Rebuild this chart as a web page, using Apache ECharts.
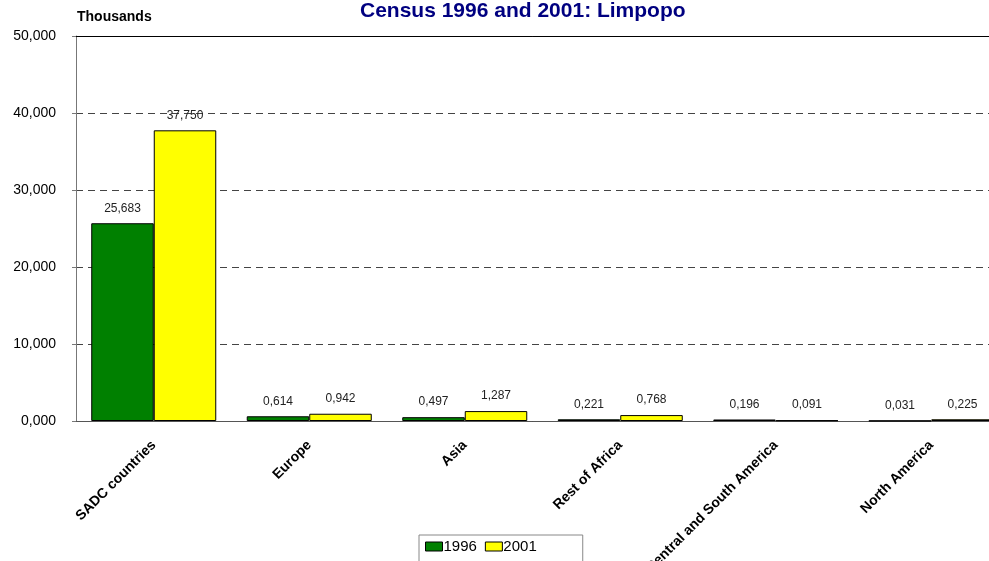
<!DOCTYPE html>
<html>
<head>
<meta charset="utf-8">
<script src="https://cdn.jsdelivr.net/npm/echarts@6/dist/echarts.min.js"></script>
<style>
  html, body { margin: 0; padding: 0; background: #fff; }
  #chart { width: 989px; height: 561px; }
</style>
</head>
<body>
<div id="chart"></div>
<script>
// data (thousands)
let categories = ['SADC countries', 'Europe', 'Asia', 'Rest of Africa', 'Central and South America', 'North America']
let values1996 = [25.683, 0.614, 0.497, 0.221, 0.196, 0.031]
let values2001 = [37.750, 0.942, 1.287, 0.768, 0.091, 0.225]
let yTicks = [0, 10, 20, 30, 40, 50]

function fmt(v) {
    // comma used as the decimal mark
    return Number(v).toFixed(3).replace('.', ',')
}

window.onload = function () {
    let chart = echarts.init(document.getElementById('chart'))
    let labelStyle = {
        show: true,
        position: 'top',
        distance: 9,
        fontFamily: 'Arial, Liberation Sans',
        fontSize: 12,
        color: '#222',
        formatter: (p) => fmt(p.value)
    }
    let option = {
        animation: false,
        title: {
            text: 'Census 1996 and 2001: Limpopo',
            left: 355,
            top: -4,
            textStyle: { fontFamily: 'Arial, Liberation Sans', fontSize: 21, fontWeight: 'bold', color: '#000080' }
        },
        graphic: [{
            type: 'text', left: 77, top: 10,
            style: { text: 'Thousands', font: 'bold 14px Arial, Liberation Sans', fill: '#000' }
        }],
        legend: {
            left: 419,
            top: 535,
            icon: 'rect',
            itemWidth: 17,
            itemHeight: 9,
            itemGap: 8,
            padding: [4, 46, 10, 6],
            borderColor: '#888',
            borderWidth: 1,
            textStyle: { fontFamily: 'Arial, Liberation Sans', fontSize: 15, color: '#000', padding: [0, 0, 0, -4] },
            itemStyle: { borderColor: '#000', borderWidth: 1 },
            data: ['1996', '2001']
        },
        grid: { left: 76, top: 36, width: 933, height: 385, containLabel: false, outerBoundsMode: 'none' },
        xAxis: [{
            type: 'category',
            data: categories,
            axisLine: { show: true, lineStyle: { color: '#555' } },
            axisTick: { show: false },
            axisLabel: {
                interval: 0,
                rotate: 45,
                margin: 22,
                fontFamily: 'Arial, Liberation Sans',
                fontSize: 14,
                fontWeight: 'bold',
                color: '#000'
            }
        }, {
            type: 'category',
            position: 'top',
            data: categories,
            axisLine: { show: true, lineStyle: { color: '#000', width: 1 } },
            axisTick: { show: false },
            axisLabel: { show: false }
        }],
        yAxis: {
            type: 'value',
            min: yTicks[0],
            max: yTicks[yTicks.length - 1],
            interval: 10,
            axisLine: { show: true, lineStyle: { color: '#777' } },
            axisTick: { show: true, length: 4, lineStyle: { color: '#777' } },
            splitLine: { show: true, lineStyle: { color: '#444', type: [7, 5] } },
            axisLabel: {
                margin: 20,
                fontFamily: 'Arial, Liberation Sans',
                fontSize: 14,
                color: '#000',
                formatter: (v) => fmt(v)
            }
        },
        series: [{
            name: '1996',
            type: 'bar',
            data: values1996,
            barGap: '0%',
            barCategoryGap: '19.6%',
            itemStyle: { color: '#008000', borderColor: '#000', borderWidth: 1 },
            label: labelStyle
        }, {
            name: '2001',
            type: 'bar',
            data: values2001,
            itemStyle: { color: '#ffff00', borderColor: '#000', borderWidth: 1 },
            label: labelStyle
        }]
    }
    chart.setOption(option)
}
</script>
</body>
</html>
